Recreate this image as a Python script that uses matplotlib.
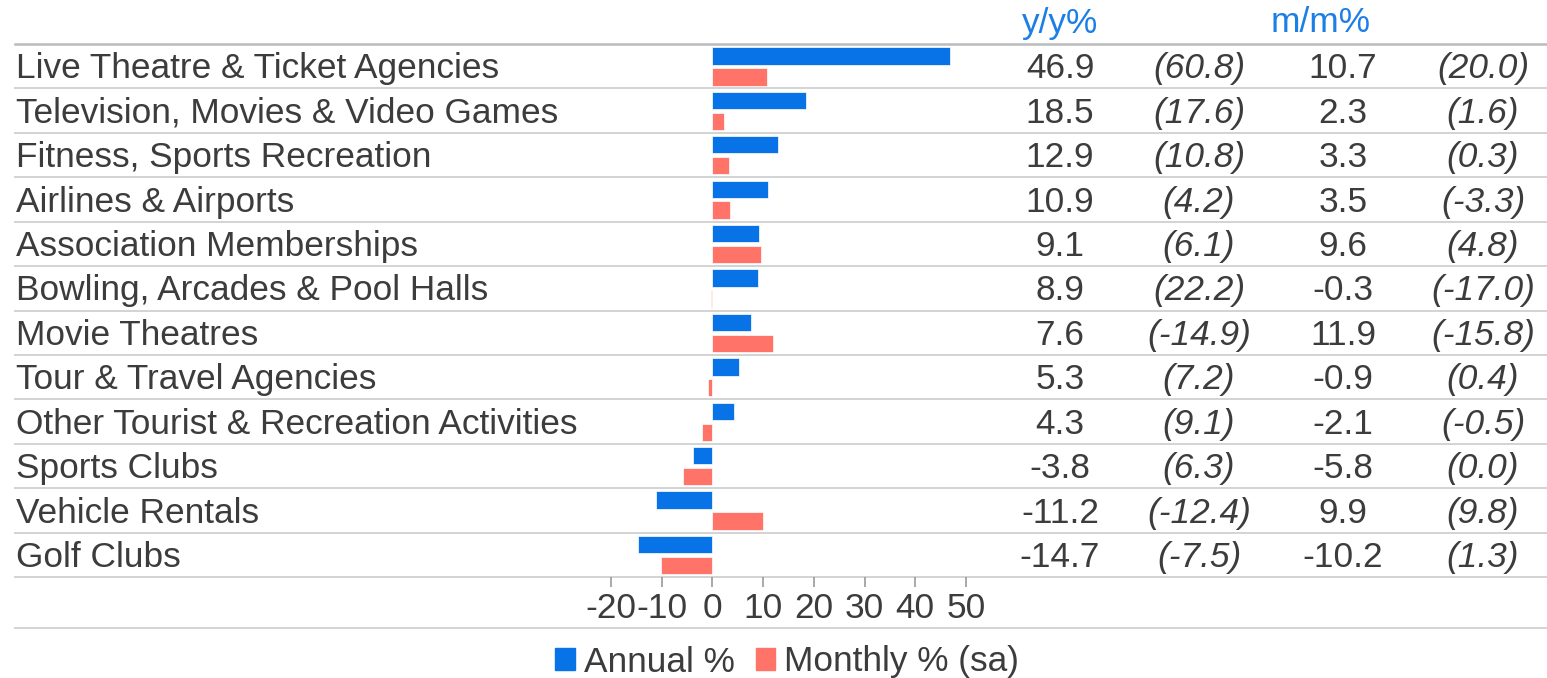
import matplotlib
matplotlib.use("Agg")
import matplotlib.pyplot as plt
import numpy as np
from matplotlib.patches import Patch

categories = ["Live Theatre & Ticket Agencies", "Television, Movies & Video Games",
              "Fitness, Sports Recreation", "Airlines & Airports", "Association Memberships",
              "Bowling, Arcades & Pool Halls", "Movie Theatres", "Tour & Travel Agencies",
              "Other Tourist & Recreation Activities", "Sports Clubs", "Vehicle Rentals",
              "Golf Clubs"]
yy = [46.9, 18.5, 12.9, 10.9, 9.1, 8.9, 7.6, 5.3, 4.3, -3.8, -11.2, -14.7]
yy_prev = [60.8, 17.6, 10.8, 4.2, 6.1, 22.2, -14.9, 7.2, 9.1, 6.3, -12.4, -7.5]
mm = [10.7, 2.3, 3.3, 3.5, 9.6, -0.3, 11.9, -0.9, -2.1, -5.8, 9.9, -10.2]
mm_prev = [20.0, 1.6, 0.3, -3.3, 4.8, -17.0, -15.8, 0.4, -0.5, 0.0, 9.8, 1.3]
ticks = [-20, -10, 0, 10, 20, 30, 40, 50]

plt.rcParams['font.family'] = ['Liberation Sans', 'DejaVu Sans']
plt.rcParams['axes.unicode_minus'] = False

blue = '#0873e6'
red = '#ff7369'
txt = '#3c3c3c'
fs = 25.4

W, H = 1547, 678
fig = plt.figure(figsize=(W / 100, H / 100), dpi=100)
top = 1 - 44 / H
bot = 1 - 577 / H
n = len(categories)
pos = np.arange(n)

# table / labels axes spanning the whole width
ax_t = fig.add_axes([0, bot, 1, top - bot])
ax_t.set_xlim(0, W)
ax_t.set_ylim(n, 0)
ax_t.axis('off')

for k in range(n + 1):
    ax_t.plot([15, W], [k, k], color='#bbbbbb' if k == 0 else '#d3d3d3',
              lw=1.8 if k == 0 else 1.4, clip_on=False, zorder=0)

for i in range(n):
    yc = i + 0.56
    ax_t.text(16, yc, categories[i], ha='left', va='center', fontsize=fs, color=txt)
    ax_t.text(1060, yc, f"{yy[i]:.1f}", ha='center', va='center', fontsize=fs, color=txt)
    ax_t.text(1199, yc, f"({yy_prev[i]:.1f})", ha='center', va='center', fontsize=fs,
              color=txt, style='italic')
    ax_t.text(1343, yc, f"{mm[i]:.1f}", ha='center', va='center', fontsize=fs, color=txt)
    ax_t.text(1483, yc, f"({mm_prev[i]:.1f})", ha='center', va='center', fontsize=fs,
              color=txt, style='italic')

fig.text(1060 / W, 1 - 23 / H, "y/y%", ha='center', va='center', fontsize=fs, color='#1c7fe6')
fig.text(1321 / W, 1 - 23 / H, "m/m%", ha='center', va='center', fontsize=fs, color='#1c7fe6')

# bar axes
ax = fig.add_axes([611 / W, bot, 355 / W, top - bot])
ax.set_xlim(-20, 50)
ax.set_ylim(n, 0)
ax.barh(pos + 0.27, yy, height=0.39, color=blue, edgecolor='white', linewidth=0.5)
ax.barh(pos + 0.74, mm, height=0.39, color=red, edgecolor='white', linewidth=0.5)
for s in ax.spines.values():
    s.set_visible(False)
ax.patch.set_alpha(0)
ax.set_yticks([])
ax.set_xticks(ticks)
ax.set_xticklabels([str(t) for t in ticks])
ax.tick_params(axis='x', length=7.5, width=1.2, color='#999999', labelsize=fs,
               labelcolor=txt, pad=3)

# line above the legend
fig.add_artist(plt.Line2D([15 / W, 1], [1 - 628 / H, 1 - 628 / H], color='#d3d3d3', lw=1.4))

handles = [Patch(color=blue, label='Annual %'), Patch(color=red, label='Monthly % (sa)')]
fig.legend(handles=handles, loc='center', bbox_to_anchor=(787 / W, 1 - 662 / H), ncol=2,
           frameon=False, fontsize=fs, handlelength=0.55, handleheight=0.55,
           handletextpad=0.25, columnspacing=0.6, labelcolor=txt)

fig.savefig('out.png', dpi=100)
